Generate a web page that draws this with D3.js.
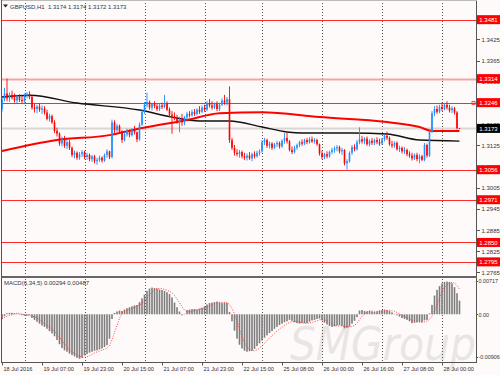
<!DOCTYPE html>
<html lang="en">
<head>
<meta charset="UTF-8">
<title>GBPUSD,H1</title>
<script src="https://cdn.jsdelivr.net/npm/d3@7"></script>
<style>
  body { margin: 0; background: #fffafa; }
  text { font-family: "Liberation Sans", Arial, sans-serif; font-size: 6px; fill: #333; }
  .axis line { stroke: #555; shape-rendering: crispEdges; }
  .axis path { display: none; }
  .macd-axis text { font-size: 5.4px; }
  .time text { font-size: 5.6px; }
</style>
</head>
<body>
<script>
// H1 bars, 18 Jul 2016 15:00 .. 28 Jul 2016 07:00
const opens = [
  1.3228,1.3255,1.3272,1.3258,1.3268,1.3260,1.3252,1.3262,1.3254,1.3250,1.3266,1.3270,
  1.3262,1.3232,1.3228,1.3235,1.3226,1.3230,1.3218,1.3200,1.3208,1.3190,1.3166,1.3158,
  1.3130,1.3144,1.3124,1.3134,1.3118,1.3098,1.3104,1.3090,1.3100,1.3106,1.3092,1.3098,
  1.3086,1.3094,1.3080,1.3084,1.3090,1.3082,1.3098,1.3108,1.3092,1.3190,1.3168,1.3180,
  1.3164,1.3140,1.3156,1.3166,1.3154,1.3170,1.3162,1.3142,1.3184,1.3220,1.3240,1.3248,
  1.3232,1.3242,1.3236,1.3228,1.3238,1.3234,1.3244,1.3226,1.3212,1.3208,1.3200,1.3192,
  1.3198,1.3190,1.3204,1.3214,1.3210,1.3220,1.3214,1.3226,1.3220,1.3232,1.3226,1.3244,
  1.3238,1.3232,1.3242,1.3228,1.3240,1.3252,1.3246,1.3256,1.3140,1.3118,1.3104,1.3100,
  1.3106,1.3094,1.3090,1.3096,1.3088,1.3100,1.3094,1.3104,1.3108,1.3134,1.3140,1.3124,
  1.3130,1.3118,1.3128,1.3132,1.3122,1.3138,1.3146,1.3136,1.3112,1.3106,1.3118,1.3126,
  1.3134,1.3130,1.3140,1.3134,1.3142,1.3136,1.3140,1.3128,1.3102,1.3092,1.3100,1.3094,
  1.3106,1.3112,1.3116,1.3120,1.3108,1.3112,1.3074,1.3080,1.3104,1.3120,1.3114,1.3134,
  1.3142,1.3136,1.3144,1.3128,1.3138,1.3132,1.3140,1.3134,1.3130,1.3142,1.3152,1.3146,
  1.3128,1.3124,1.3132,1.3114,1.3118,1.3108,1.3112,1.3100,1.3096,1.3088,1.3098,1.3086,
  1.3094,1.3084,1.3126,1.3096,1.3164,1.3216,1.3228,1.3220,1.3234,1.3228,1.3240,1.3232,
  1.3224,1.3230,1.3218,1.3174
];
const highs = [
  1.3262,1.3288,1.3314,1.3275,1.3280,1.3272,1.3268,1.3270,1.3266,1.3272,1.3276,1.3278,
  1.3266,1.3242,1.3240,1.3244,1.3238,1.3236,1.3226,1.3214,1.3212,1.3196,1.3175,1.3162,
  1.3150,1.3152,1.3140,1.3140,1.3122,1.3110,1.3108,1.3106,1.3112,1.3110,1.3104,1.3102,
  1.3098,1.3098,1.3090,1.3096,1.3094,1.3102,1.3114,1.3110,1.3198,1.3196,1.3186,1.3184,
  1.3168,1.3162,1.3172,1.3170,1.3174,1.3180,1.3164,1.3190,1.3226,1.3248,1.3274,1.3252,
  1.3246,1.3250,1.3244,1.3242,1.3246,1.3268,1.3250,1.3232,1.3222,1.3218,1.3212,1.3206,
  1.3214,1.3208,1.3220,1.3222,1.3226,1.3228,1.3230,1.3236,1.3238,1.3240,1.3250,1.3256,
  1.3250,1.3246,1.3250,1.3246,1.3258,1.3268,1.3262,1.3292,1.3146,1.3126,1.3114,1.3112,
  1.3110,1.3104,1.3102,1.3106,1.3104,1.3108,1.3110,1.3114,1.3140,1.3146,1.3144,1.3136,
  1.3134,1.3132,1.3138,1.3136,1.3142,1.3160,1.3162,1.3140,1.3122,1.3124,1.3130,1.3138,
  1.3142,1.3144,1.3146,1.3148,1.3150,1.3146,1.3144,1.3130,1.3110,1.3104,1.3108,1.3110,
  1.3118,1.3122,1.3126,1.3124,1.3118,1.3114,1.3086,1.3108,1.3126,1.3128,1.3140,1.3176,
  1.3152,1.3148,1.3150,1.3142,1.3146,1.3144,1.3148,1.3144,1.3146,1.3158,1.3164,1.3150,
  1.3138,1.3136,1.3136,1.3124,1.3122,1.3120,1.3116,1.3108,1.3104,1.3102,1.3104,1.3100,
  1.3098,1.3132,1.3130,1.3170,1.3222,1.3236,1.3238,1.3240,1.3246,1.3244,1.3250,1.3240,
  1.3236,1.3234,1.3222,1.3174
];
const lows = [
  1.3220,1.3250,1.3250,1.3248,1.3255,1.3246,1.3244,1.3248,1.3245,1.3246,1.3258,1.3256,
  1.3226,1.3218,1.3216,1.3220,1.3214,1.3212,1.3196,1.3192,1.3186,1.3160,1.3150,1.3124,
  1.3122,1.3118,1.3114,1.3112,1.3092,1.3088,1.3084,1.3084,1.3092,1.3086,1.3084,1.3080,
  1.3078,1.3074,1.3070,1.3078,1.3076,1.3078,1.3090,1.3086,1.3088,1.3160,1.3162,1.3158,
  1.3132,1.3136,1.3150,1.3148,1.3150,1.3156,1.3134,1.3138,1.3180,1.3214,1.3232,1.3226,
  1.3224,1.3230,1.3222,1.3222,1.3228,1.3230,1.3222,1.3206,1.3158,1.3196,1.3186,1.3162,
  1.3180,1.3182,1.3198,1.3204,1.3206,1.3208,1.3210,1.3214,1.3216,1.3220,1.3222,1.3232,
  1.3226,1.3228,1.3222,1.3222,1.3236,1.3240,1.3238,1.3132,1.3112,1.3096,1.3094,1.3090,
  1.3088,1.3084,1.3082,1.3084,1.3080,1.3088,1.3090,1.3096,1.3104,1.3126,1.3118,1.3116,
  1.3112,1.3114,1.3120,1.3116,1.3118,1.3130,1.3130,1.3108,1.3100,1.3102,1.3112,1.3120,
  1.3124,1.3126,1.3128,1.3130,1.3132,1.3130,1.3124,1.3096,1.3086,1.3086,1.3088,1.3090,
  1.3100,1.3104,1.3108,1.3102,1.3098,1.3068,1.3056,1.3076,1.3098,1.3108,1.3110,1.3128,
  1.3130,1.3128,1.3124,1.3122,1.3126,1.3126,1.3128,1.3124,1.3126,1.3136,1.3140,1.3124,
  1.3118,1.3118,1.3110,1.3106,1.3102,1.3100,1.3094,1.3090,1.3082,1.3084,1.3080,1.3074,
  1.3080,1.3080,1.3090,1.3092,1.3160,1.3208,1.3214,1.3216,1.3222,1.3224,1.3226,1.3218,
  1.3216,1.3212,1.3170,1.3172
];
const closes = [
  1.3255,1.3272,1.3258,1.3268,1.3260,1.3252,1.3262,1.3254,1.3250,1.3266,1.3270,1.3262,
  1.3232,1.3228,1.3235,1.3226,1.3230,1.3218,1.3200,1.3208,1.3190,1.3166,1.3158,1.3130,
  1.3144,1.3124,1.3134,1.3118,1.3098,1.3104,1.3090,1.3100,1.3106,1.3092,1.3098,1.3086,
  1.3094,1.3080,1.3084,1.3090,1.3082,1.3098,1.3108,1.3092,1.3190,1.3168,1.3180,1.3164,
  1.3140,1.3156,1.3166,1.3154,1.3170,1.3162,1.3142,1.3184,1.3220,1.3240,1.3248,1.3232,
  1.3242,1.3236,1.3228,1.3238,1.3234,1.3244,1.3226,1.3212,1.3208,1.3200,1.3192,1.3198,
  1.3190,1.3204,1.3214,1.3210,1.3220,1.3214,1.3226,1.3220,1.3232,1.3226,1.3244,1.3238,
  1.3232,1.3242,1.3228,1.3240,1.3252,1.3246,1.3256,1.3140,1.3118,1.3104,1.3100,1.3106,
  1.3094,1.3090,1.3096,1.3088,1.3100,1.3094,1.3104,1.3108,1.3134,1.3140,1.3124,1.3130,
  1.3118,1.3128,1.3132,1.3122,1.3138,1.3146,1.3136,1.3112,1.3106,1.3118,1.3126,1.3134,
  1.3130,1.3140,1.3134,1.3142,1.3136,1.3140,1.3128,1.3102,1.3092,1.3100,1.3094,1.3106,
  1.3112,1.3116,1.3120,1.3108,1.3112,1.3074,1.3080,1.3104,1.3120,1.3114,1.3134,1.3142,
  1.3136,1.3144,1.3128,1.3138,1.3132,1.3140,1.3134,1.3130,1.3142,1.3152,1.3146,1.3128,
  1.3124,1.3132,1.3114,1.3118,1.3108,1.3112,1.3100,1.3096,1.3088,1.3098,1.3086,1.3094,
  1.3084,1.3126,1.3096,1.3164,1.3216,1.3228,1.3220,1.3234,1.3228,1.3240,1.3232,1.3224,
  1.3230,1.3218,1.3174,1.3173
];

// moving averages, read at a few bars
const redMaIdx = [0, 22, 43, 56, 74, 87, 104, 127, 154, 167, 172, 183];
const redMaVal = [1.3109, 1.3140, 1.3154, 1.3174, 1.3197, 1.3216, 1.3219, 1.3205, 1.3191, 1.3177, 1.3166, 1.3166];
const blackMaIdx = [0, 11, 30, 55, 68, 79, 91, 104, 114, 120, 140, 154, 167, 183];
const blackMaVal = [1.3262, 1.3267, 1.3245, 1.3225, 1.3205, 1.3194, 1.3194, 1.3177, 1.3163, 1.3160, 1.3160, 1.3157, 1.3140, 1.3137];

// MACD(6,34,5) main values per bar
const macd = [
  -0.0010,-0.0004,0.0002,0.0003,0.0003,0.0002,0.0001,-0.0001,-0.0002,-0.0003,-0.0003,-0.0002,
  -0.0008,-0.0012,-0.0016,-0.0020,-0.0024,-0.0027,-0.0031,-0.0036,-0.0041,-0.0047,-0.0055,
  -0.0064,-0.0072,-0.0077,-0.0080,-0.0084,-0.0087,-0.0090,-0.0093,-0.0095,-0.0093,
  -0.0088,-0.0085,-0.0082,-0.0080,-0.0078,-0.0077,-0.0075,-0.0073,-0.0070,-0.0066,-0.0052,
  -0.0010,0.0003,0.0006,0.0008,0.0007,0.0010,0.0013,0.0015,0.0017,0.0019,0.0020,0.0026,0.0034,
  0.0042,0.0050,0.0055,0.0057,0.0056,0.0055,0.0053,0.0052,0.0050,0.0047,0.0043,0.0036,
  0.0025,0.0015,0.0006,-0.0002,0.0001,
  0.0009,0.0010,0.0011,0.0011,0.0010,0.0012,0.0014,0.0017,0.0021,0.0024,0.0025,0.0026,0.0027,0.0025,0.0024,0.0025,0.0024,
  0.0005,-0.0015,-0.0035,-0.0052,-0.0065,-0.0073,-0.0078,-0.0080,-0.0079,
  -0.0078,-0.0074,-0.0068,-0.0062,-0.0056,-0.0050,-0.0045,-0.0040,-0.0036,-0.0031,-0.0027,-0.0023,-0.0020,-0.0017,
  -0.0015,-0.0012,-0.0014,-0.0017,-0.0019,-0.0020,-0.0019,-0.0019,-0.0019,-0.0016,-0.0013,-0.0012,-0.0010,-0.0009,
  -0.0013,-0.0018,-0.0022,-0.0025,-0.0027,-0.0026,-0.0024,-0.0023,-0.0025,-0.0030,-0.0029,-0.0026,-0.0020,-0.0014,-0.0006,0.0008,
  0.0009,0.0007,0.0006,0.0007,0.0006,0.0005,0.0006,0.0008,0.0009,0.0010,0.0009,0.0007,
  0.0004,0.0001,-0.0002,-0.0005,-0.0008,-0.0010,-0.0012,-0.0015,-0.0019,-0.0018,-0.0017,-0.0016,-0.0017,-0.0013,-0.0012,
  0.0002,0.0020,0.0040,0.0052,0.0060,0.0066,0.0069,0.0070,0.0069,0.0066,0.0058,0.0045,0.0029
];

const priceTicks = [1.3425, 1.3365, 1.3305, 1.3245, 1.3185, 1.3125, 1.3065, 1.3005, 1.2945, 1.2885, 1.2825, 1.2765];
const levels = [1.3481, 1.3314, 1.3246, 1.3056, 1.2971, 1.2850, 1.2795];
const lastPrice = 1.3173;
const macdTicks = [0.00717, 0, -0.00906];
const macdTickLabels = ['0.00717', '0.00', '-0.00906'];
const timeIdx = [0, 16, 32, 48, 64, 80, 96, 112, 128, 144, 160, 176];
const timeLabels = ['18 Jul 2016', '19 Jul 07:00', '19 Jul 23:00', '20 Jul 15:00', '21 Jul 07:00', '21 Jul 23:00',
  '22 Jul 15:00', '25 Jul 08:00', '26 Jul 00:00', '26 Jul 16:00', '27 Jul 08:00', '28 Jul 00:00'];
const gridIdx = [9, 33, 57, 81, 104, 128, 152, 176];

const width = 500, height = 375;
const left = 1.5, right = 476.5, mainBottom = 276.5, bottom = 362.5;

const svg = d3.select('body').append('svg')
  .attr('width', width)
  .attr('height', height);

svg.append('rect').attr('width', width).attr('height', height).attr('fill', '#fffafa');

const defs = svg.append('defs');
defs.append('clipPath').attr('id', 'clipMain')
  .append('rect').attr('x', left).attr('y', 0).attr('width', right - left).attr('height', mainBottom);
defs.append('clipPath').attr('id', 'clipMacd')
  .append('rect').attr('x', left).attr('y', mainBottom + 1).attr('width', right - left).attr('height', bottom - mainBottom - 1);

// scales
const x = d3.scaleLinear().domain([0, closes.length - 1]).range([2, 2 + 2.5 * (closes.length - 1)]);
const y = d3.scaleLinear().domain([1.2755, 1.3531]).range([276, 2]);
const ym = d3.scaleLinear().domain([-0.00906, 0.00717]).range([356.7, 280.7]);

// watermark
svg.append('text')
  .attr('x', 290).attr('y', 360)
  .attr('textLength', 186).attr('lengthAdjust', 'spacingAndGlyphs')
  .style('font-family', '"DejaVu Sans", sans-serif')
  .style('font-size', '46px').style('font-style', 'italic')
  .style('fill', '#e9e5e5')
  .text('SMGroup');

// vertical grid
svg.append('g').selectAll('line')
  .data(gridIdx).enter().append('line')
  .attr('x1', d => Math.round(x(d)) + 0.5).attr('x2', d => Math.round(x(d)) + 0.5)
  .attr('y1', 0).attr('y2', bottom)
  .attr('stroke', '#555').attr('stroke-dasharray', '1,2');

// horizontal levels
const main = svg.append('g').attr('clip-path', 'url(#clipMain)');
main.append('line')
  .attr('x1', left).attr('x2', right)
  .attr('y1', y(lastPrice)).attr('y2', y(lastPrice))
  .attr('stroke', '#d9d6d6').attr('stroke-width', 2);
main.selectAll('.lvl')
  .data(levels).enter().append('line')
  .attr('class', 'lvl')
  .attr('x1', left).attr('x2', right)
  .attr('y1', d => Math.round(y(d)) + 0.5).attr('y2', d => Math.round(y(d)) + 0.5)
  .attr('stroke', d => d === 1.3314 ? '#f5a3a3' : '#ff2a2a')
  .attr('stroke-width', d => d === 1.3314 ? 2 : 1);
main.append('rect')
  .attr('x', 472).attr('y', Math.round(y(1.3246)) - 1.5).attr('width', 3).attr('height', 3)
  .attr('fill', 'none').attr('stroke', '#ff2a2a').attr('stroke-width', 0.8);

// moving averages
main.append('path')
  .datum(blackMaIdx.map((d, i) => [d, blackMaVal[i]]))
  .attr('fill', 'none').attr('stroke', '#111').attr('stroke-width', 1.4)
  .attr('d', d3.line().x(d => x(d[0])).y(d => y(d[1])).curve(d3.curveMonotoneX));
main.append('path')
  .datum(redMaIdx.map((d, i) => [d, redMaVal[i]]))
  .attr('fill', 'none').attr('stroke', '#ff0000').attr('stroke-width', 2)
  .attr('d', d3.line().x(d => x(d[0])).y(d => y(d[1])).curve(d3.curveMonotoneX));

// candles
const bars = d3.range(closes.length).map(i => ({ i, o: opens[i], h: highs[i], l: lows[i], c: closes[i] }));
const col = d => d.c >= d.o ? '#1e90ff' : '#ff0000';
const candle = main.selectAll('.candle').data(bars).enter().append('g').attr('class', 'candle');
candle.append('line')
  .attr('x1', d => x(d.i)).attr('x2', d => x(d.i))
  .attr('y1', d => y(d.h)).attr('y2', d => y(d.l))
  .attr('stroke', col).attr('stroke-width', 0.9);
candle.append('rect')
  .attr('x', d => x(d.i) - 0.8).attr('width', 1.6)
  .attr('y', d => y(Math.max(d.o, d.c)))
  .attr('height', d => Math.max(0.8, Math.abs(y(d.o) - y(d.c))))
  .attr('fill', col);

// price axis
svg.append('g').attr('class', 'axis')
  .attr('transform', `translate(${right},0)`)
  .call(d3.axisRight(y).tickValues(priceTicks).tickSize(3).tickPadding(2).tickFormat(d3.format('.4f')));

// level labels
const tags = svg.append('g');
levels.forEach(v => {
  tags.append('rect').attr('x', 477).attr('y', y(v) - 4.5).attr('width', 23).attr('height', 9).attr('fill', '#ff0000');
  tags.append('text').attr('x', 488.5).attr('y', y(v) + 2.2).attr('text-anchor', 'middle')
    .style('fill', '#fff').text(d3.format('.4f')(v));
});
tags.append('rect').attr('x', 477).attr('y', y(lastPrice) - 4.5).attr('width', 23).attr('height', 9).attr('fill', '#000');
tags.append('text').attr('x', 488.5).attr('y', y(lastPrice) + 2.2).attr('text-anchor', 'middle')
  .style('fill', '#fff').text(d3.format('.4f')(lastPrice));

// MACD panel
const sub = svg.append('g').attr('clip-path', 'url(#clipMacd)');
sub.selectAll('.hist')
  .data(macd).enter().append('rect')
  .attr('class', 'hist')
  .attr('x', (d, i) => x(i) - 0.8).attr('width', 1.6)
  .attr('y', d => Math.min(ym(d), ym(0)))
  .attr('height', d => Math.abs(ym(d) - ym(0)))
  .attr('fill', '#7d7d7d');
const signal = macd.map((d, i) => d3.mean(macd.slice(Math.max(0, i - 4), i + 1)));
sub.append('path')
  .datum(signal)
  .attr('fill', 'none').attr('stroke', '#ff3030').attr('stroke-width', 0.9)
  .attr('stroke-dasharray', '1,1.5')
  .attr('d', d3.line().x((d, i) => x(i)).y(d => ym(d)));

svg.append('g').attr('class', 'axis macd-axis')
  .attr('transform', `translate(${right},0)`)
  .call(d3.axisRight(ym).tickValues(macdTicks).tickSize(1.5).tickPadding(0.5)
    .tickFormat((d, i) => macdTickLabels[i]));

// frames
const frame = svg.append('g').attr('stroke', '#555').attr('shape-rendering', 'crispEdges');
frame.append('line').attr('x1', left).attr('x2', left).attr('y1', 0).attr('y2', bottom);
frame.append('line').attr('x1', right).attr('x2', right).attr('y1', 0).attr('y2', bottom);
frame.append('line').attr('x1', left).attr('x2', right).attr('y1', 0.5).attr('y2', 0.5).attr('stroke', '#bbb');
frame.append('line').attr('x1', left).attr('x2', right).attr('y1', bottom).attr('y2', bottom);
frame.append('line').attr('x1', left).attr('x2', right).attr('y1', mainBottom + 0.5).attr('y2', mainBottom + 0.5)
  .attr('stroke', '#666').attr('stroke-width', 2);

// time axis
const tAxis = svg.append('g').attr('class', 'time');
tAxis.selectAll('line').data(timeIdx).enter().append('line')
  .attr('x1', d => Math.round(x(d)) + 0.5).attr('x2', d => Math.round(x(d)) + 0.5)
  .attr('y1', bottom).attr('y2', bottom + 3).attr('stroke', '#555');
tAxis.selectAll('text').data(timeIdx).enter().append('text')
  .attr('x', d => x(d) + 1.5).attr('y', 370.5)
  .text((d, i) => timeLabels[i]);

// titles
svg.append('path').attr('d', 'M3,4.5 L8,4.5 L5.5,7.5 Z').attr('fill', '#222');
svg.append('text').attr('x', 10).attr('y', 8.5).style('white-space', 'pre')
  .text('GBPUSD,H1  1.3174 1.3174 1.3172 1.3173');
svg.append('text').attr('x', 4).attr('y', 284.5)
  .text('MACD(6,34,5) 0.00294 0.00487');
</script>
</body>
</html>
